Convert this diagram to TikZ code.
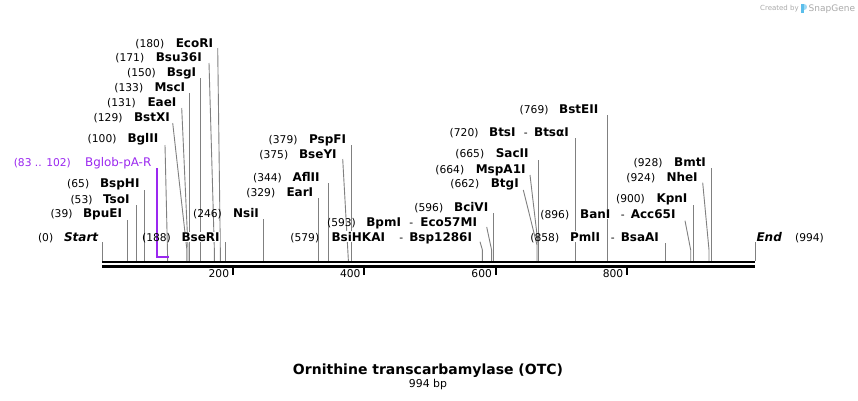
\documentclass[tikz,border=0pt]{standalone}
\usepackage{fontspec}
\setmainfont{DejaVu Sans}
\definecolor{sitegray}{RGB}{128,128,128}
\definecolor{featpurple}{RGB}{155,40,240}
\definecolor{wmgray}{RGB}{170,170,170}
\definecolor{wmblue}{RGB}{90,190,235}
\begin{document}
\begin{tikzpicture}[x=1pt,y=-1pt,
  num/.style={font=\fontsize{10.7}{12}\selectfont, anchor=base east, inner sep=0.6pt},
  numr/.style={font=\fontsize{10.7}{12}\selectfont, anchor=base west, inner sep=0.6pt},
  enz/.style={font=\bfseries\fontsize{12}{14}\selectfont, anchor=base west, inner sep=0.6pt, fill=white},
  endlab/.style={font=\bfseries\itshape\fontsize{12}{14}\selectfont, anchor=base west, inner sep=0.6pt, fill=white},
  dashlab/.style={font=\fontsize{10.7}{12}\selectfont, anchor=base east, inner sep=0.6pt},
  feat/.style={font=\fontsize{11.9}{14}\selectfont, anchor=base west, inner sep=0.6pt, text=featpurple},
  featnum/.style={font=\fontsize{10.7}{12}\selectfont, anchor=base east, inner sep=0.6pt, text=featpurple},
  siteline/.style={draw=sitegray, line width=0.9pt},
  featline/.style={draw=featpurple, line width=2pt},
  bar/.style={draw=black, line width=2.7pt},
  tick/.style={draw=black, line width=2pt},
  ticklab/.style={font=\fontsize{10.7}{12}\selectfont, anchor=base east, inner sep=0pt}
]
\useasboundingbox (0,0) rectangle (858,400);
\fill[white] (0,0) rectangle (858,400);

% ---------- connector coordinates ----------
\coordinate (tStart) at (102,242);   \coordinate (bStart) at (102,261);
\coordinate (tBpuEI) at (127.6,220); \coordinate (bBpuEI) at (127.6,261);
\coordinate (tTsoI) at (136.8,205);  \coordinate (bTsoI) at (136.8,261);
\coordinate (tBspHI) at (144.7,190); \coordinate (bBspHI) at (144.7,261);
\coordinate (tBglII) at (165,145);   \coordinate (bBglII) at (167.7,261);
\coordinate (tBstXI) at (172.7,123); \coordinate (kBstXI) at (186.7,248); \coordinate (bBstXI) at (186.7,261);
\coordinate (tEaeI) at (181.7,108);  \coordinate (kEaeI) at (188,248);    \coordinate (bEaeI) at (188,261);
\coordinate (tMscI) at (189.4,93);   \coordinate (bMscI) at (189.4,261);
\coordinate (tBsgI) at (200.6,78);   \coordinate (bBsgI) at (200.6,261);
\coordinate (tBsu) at (209,63);      \coordinate (kBsu) at (214.3,248);   \coordinate (bBsu) at (214.3,261);
\coordinate (tEcoRI) at (217.7,48);  \coordinate (kEcoRI) at (220.3,248); \coordinate (bEcoRI) at (220.3,261);
\coordinate (tBseRI) at (225.5,242); \coordinate (bBseRI) at (225.5,261);
\coordinate (tNsiI) at (263.6,219);  \coordinate (bNsiI) at (263.6,261);
\coordinate (tEarI) at (318,198);    \coordinate (bEarI) at (318,261);
\coordinate (tAflII) at (328,183);   \coordinate (bAflII) at (328,261);
\coordinate (tBseYI) at (342.7,159); \coordinate (bBseYI) at (348.4,261);
\coordinate (tPspFI) at (351,145);   \coordinate (bPspFI) at (351,261);
\coordinate (tBsiHKAI) at (480,241.7); \coordinate (kBsiHKAI) at (482.4,250); \coordinate (bBsiHKAI) at (482.4,261);
\coordinate (tBpmI) at (486.7,227);  \coordinate (kBpmI) at (491.6,250);  \coordinate (bBpmI) at (491.6,261);
\coordinate (tBciVI) at (493.6,213); \coordinate (bBciVI) at (493.6,261);
\coordinate (tBtgI) at (523.3,190);  \coordinate (kBtgI) at (537,245);    \coordinate (bBtgI) at (537,261);
\coordinate (tMsp) at (530,175);     \coordinate (kMsp) at (538.2,245);   \coordinate (bMsp) at (538.2,261);
\coordinate (tSacII) at (538.9,160); \coordinate (bSacII) at (538.9,261);
\coordinate (tBtsI) at (575,138);    \coordinate (bBtsI) at (575,261);
\coordinate (tBstEII) at (607.2,115); \coordinate (bBstEII) at (607.2,261);
\coordinate (tPmlI) at (665.7,243);  \coordinate (bPmlI) at (665.7,261);
\coordinate (tBanI) at (685,220.7);  \coordinate (kBanI) at (690.7,250);  \coordinate (bBanI) at (690.7,261);
\coordinate (tKpnI) at (693.3,205);  \coordinate (bKpnI) at (693.3,261);
\coordinate (tNheI) at (702.7,182.7); \coordinate (kNheI) at (709,250);   \coordinate (bNheI) at (709,261);
\coordinate (tBmtI) at (711.7,168);  \coordinate (bBmtI) at (711.7,261);
\coordinate (tEnd) at (755,242);     \coordinate (bEnd) at (755,261);

% ---------- site connectors ----------
\draw[siteline] (tStart) -- (bStart);
\draw[siteline] (tBpuEI) -- (bBpuEI);
\draw[siteline] (tTsoI) -- (bTsoI);
\draw[siteline] (tBspHI) -- (bBspHI);
\draw[siteline] (tBglII) -- (bBglII);
\draw[siteline] (tBstXI) -- (kBstXI) -- (bBstXI);
\draw[siteline] (tEaeI) -- (kEaeI) -- (bEaeI);
\draw[siteline] (tMscI) -- (bMscI);
\draw[siteline] (tBsgI) -- (bBsgI);
\draw[siteline] (tBsu) -- (kBsu) -- (bBsu);
\draw[siteline] (tEcoRI) -- (kEcoRI) -- (bEcoRI);
\draw[siteline] (tBseRI) -- (bBseRI);
\draw[siteline] (tNsiI) -- (bNsiI);
\draw[siteline] (tEarI) -- (bEarI);
\draw[siteline] (tAflII) -- (bAflII);
\draw[siteline] (tBseYI) -- (bBseYI);
\draw[siteline] (tPspFI) -- (bPspFI);
\draw[siteline] (tBsiHKAI) -- (kBsiHKAI) -- (bBsiHKAI);
\draw[siteline] (tBpmI) -- (kBpmI) -- (bBpmI);
\draw[siteline] (tBciVI) -- (bBciVI);
\draw[siteline] (tBtgI) -- (kBtgI) -- (bBtgI);
\draw[siteline] (tMsp) -- (kMsp) -- (bMsp);
\draw[siteline] (tSacII) -- (bSacII);
\draw[siteline] (tBtsI) -- (bBtsI);
\draw[siteline] (tBstEII) -- (bBstEII);
\draw[siteline] (tPmlI) -- (bPmlI);
\draw[siteline] (tBanI) -- (kBanI) -- (bBanI);
\draw[siteline] (tKpnI) -- (bKpnI);
\draw[siteline] (tNheI) -- (kNheI) -- (bNheI);
\draw[siteline] (tBmtI) -- (bBmtI);
\draw[siteline] (tEnd) -- (bEnd);

% ---------- feature Bglob-pA-R ----------
\coordinate (fTop) at (156.5,168);
\coordinate (fCorner) at (156.5,257.3);
\coordinate (fEnd) at (168.5,257.3);
\draw[featline] (fTop) -- (fCorner) -- (fEnd);

% ---------- sequence bar ----------
\coordinate (seqL1) at (102,262);  \coordinate (seqR1) at (755,262);
\coordinate (seqL2) at (102,266.4); \coordinate (seqR2) at (755,266.4);
\draw[bar] (seqL1) -- (seqR1);
\draw[bar] (seqL2) -- (seqR2);

% ---------- ruler ticks ----------
\foreach \px/\lab [count=\i] in {232.8/200, 364.2/400, 495.6/600, 627/800}{
  \coordinate (tk\i a) at (\px,267);
  \coordinate (tk\i b) at (\px,275);
  \draw[tick] (tk\i a) -- (tk\i b);
  \node[ticklab] (tl\i) at (\px-3.5,277.5) {\lab};
}

% ---------- labels ----------
\node[num] (nStart) at (54,241) {(0)};
\node[endlab] (lStart) at (63.3,241) {Start};
\node[num] (nBpuEI) at (73.3,217.6) {(39)};
\node[enz] (lBpuEI) at (82.3,217.6) {BpuEI};
\node[num] (nTsoI) at (93.3,203.3) {(53)};
\node[enz] (lTsoI) at (102.3,203.3) {TsoI};
\node[num] (nBspHI) at (90,187.6) {(65)};
\node[enz] (lBspHI) at (99.3,187.6) {BspHI};
\node[featnum] (nFeat) at (71.7,166) {(83 .. 102)};
\node[feat] (lFeat) at (84.3,166) {Bglob-pA-R};
\node[num] (nBglII) at (117.3,142.6) {(100)};
\node[enz] (lBglII) at (126.7,142.6) {BglII};
\node[num] (nBstXI) at (123.3,121.6) {(129)};
\node[enz] (lBstXI) at (133.3,121.6) {BstXI};
\node[num] (nEaeI) at (136.7,106) {(131)};
\node[enz] (lEaeI) at (146.7,106) {EaeI};
\node[num] (nMscI) at (144,91.6) {(133)};
\node[enz] (lMscI) at (153.7,91.6) {MscI};
\node[num] (nBsgI) at (156.7,76.6) {(150)};
\node[enz] (lBsgI) at (166,76.6) {BsgI};
\node[num] (nBsu) at (145,61.6) {(171)};
\node[enz] (lBsu) at (155,61.6) {Bsu36I};
\node[num] (nEcoRI) at (165,47.3) {(180)};
\node[enz] (lEcoRI) at (175,47.3) {EcoRI};
\node[num] (nBseRI) at (171.7,241) {(188)};
\node[enz] (lBseRI) at (180.7,241) {BseRI};
\node[num] (nNsiI) at (222.7,217.6) {(246)};
\node[enz] (lNsiI) at (232.3,217.6) {NsiI};
\node[num] (nEarI) at (276,196) {(329)};
\node[enz] (lEarI) at (285.7,196) {EarI};
\node[num] (nAflII) at (282.7,181) {(344)};
\node[enz] (lAflII) at (291.7,181) {AflII};
\node[num] (nBseYI) at (289,158.3) {(375)};
\node[enz] (lBseYI) at (298.3,158.3) {BseYI};
\node[num] (nPspFI) at (298.3,143.3) {(379)};
\node[enz] (lPspFI) at (308.3,143.3) {PspFI};
\node[num] (nBsiHKAI) at (320,241) {(579)};
\node[enz] (lBsiHKAI) at (330.7,241) {BsiHKAI};
\node[dashlab] (dBsp) at (404,241) {-};
\node[enz] (lBsp) at (408.5,241) {Bsp1286I};
\node[num] (nBpmI) at (356.7,226) {(593)};
\node[enz] (lBpmI) at (365.5,226) {BpmI};
\node[dashlab] (dEco57) at (414,226) {-};
\node[enz] (lEco57) at (419.5,226) {Eco57MI};
\node[num] (nBciVI) at (444,211.6) {(596)};
\node[enz] (lBciVI) at (453.3,211.6) {BciVI};
\node[num] (nBtgI) at (480,187.6) {(662)};
\node[enz] (lBtgI) at (490,187.6) {BtgI};
\node[num] (nMsp) at (465,173.3) {(664)};
\node[enz] (lMsp) at (475,173.3) {MspA1I};
\node[num] (nSacII) at (485,157.6) {(665)};
\node[enz] (lSacII) at (495,157.6) {SacII};
\node[num] (nBtsI) at (479.3,136) {(720)};
\node[enz] (lBtsI) at (488.3,136) {BtsI};
\node[dashlab] (dBtsa) at (528.5,136) {-};
\node[enz] (lBtsa) at (533.3,136) {BtsαI};
\node[num] (nBstEII) at (549.3,113.3) {(769)};
\node[enz] (lBstEII) at (558.3,113.3) {BstEII};
\node[num] (nPmlI) at (560,241) {(858)};
\node[enz] (lPmlI) at (569.3,241) {PmlI};
\node[dashlab] (dBsaAI) at (615.5,241) {-};
\node[enz] (lBsaAI) at (620,241) {BsaAI};
\node[num] (nBanI) at (570,218.3) {(896)};
\node[enz] (lBanI) at (579.3,218.3) {BanI};
\node[dashlab] (dAcc) at (625.5,218.3) {-};
\node[enz] (lAcc) at (630,218.3) {Acc65I};
\node[num] (nKpnI) at (645.7,202.6) {(900)};
\node[enz] (lKpnI) at (655.7,202.6) {KpnI};
\node[num] (nNheI) at (656,181) {(924)};
\node[enz] (lNheI) at (665.7,181) {NheI};
\node[num] (nBmtI) at (663.3,166) {(928)};
\node[enz] (lBmtI) at (673.3,166) {BmtI};
\node[endlab] (lEnd) at (755.7,241) {End};
\node[numr] (nEnd) at (794.3,241) {(994)};

% ---------- title ----------
\node[font=\bfseries\fontsize{14}{16}\selectfont, inner sep=0pt, anchor=base] (title) at (428,374) {Ornithine transcarbamylase (OTC)};
\node[font=\fontsize{10.9}{12}\selectfont, inner sep=0pt, anchor=base] (bp) at (428,387) {994 bp};

% ---------- watermark ----------
\node[font=\fontsize{7}{8}\selectfont, text=wmgray, inner sep=0pt, anchor=base west] (wm1) at (760,10.5) {Created by};
\fill[wmblue] (801,3.5) rectangle (803.5,13);
\fill[wmblue!60] (803.5,3.5) .. controls (807.5,3.5) and (807.5,9.5) .. (803.5,9.5) -- cycle;
\node[font=\fontsize{9}{10}\selectfont, text=wmgray, inner sep=0pt, anchor=base west] (wm2) at (808.5,11) {SnapGene};
\end{tikzpicture}
\end{document}
